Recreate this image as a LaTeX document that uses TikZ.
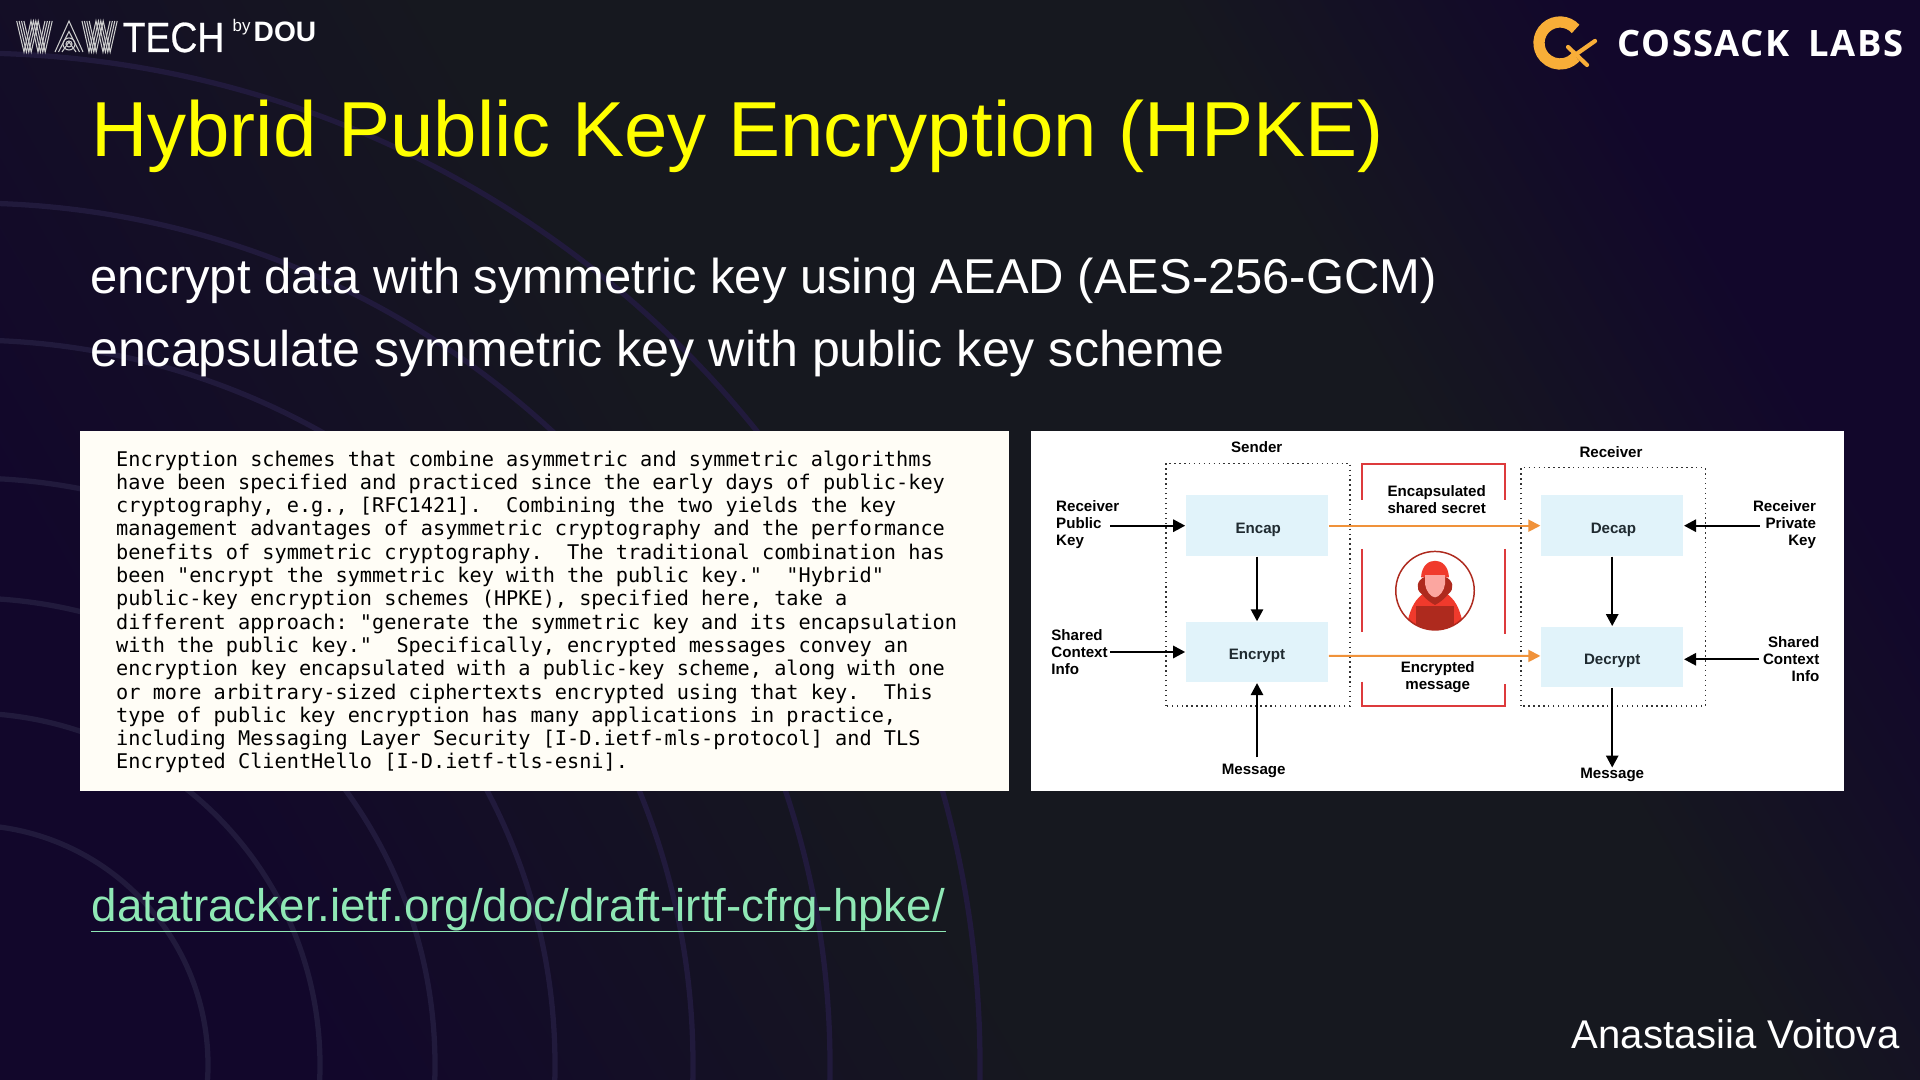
\documentclass[tikz,border=0pt]{standalone}
\usepackage{fontspec}
\setmainfont{Liberation Sans}
\newfontfamily\rfcfont{DejaVu Sans Mono}
\newfontfamily\logofont[LetterSpace=4]{Open Sans}
\newfontfamily\techfont[FakeBold=0.6]{Liberation Sans}
\usetikzlibrary{arrows.meta}
\definecolor{bgplum}{HTML}{12072B}
\definecolor{bgslate}{HTML}{16181F}
\definecolor{ringpurple}{HTML}{211A3C}
\definecolor{titleyellow}{HTML}{FFFF00}
\definecolor{linkgreen}{HTML}{8FE8B5}
\definecolor{paper}{HTML}{FFFDF6}
\definecolor{boxblue}{HTML}{E1F3FA}
\definecolor{inkdark}{HTML}{1F2A30}
\definecolor{flow}{HTML}{F0923A}
\definecolor{redline}{HTML}{DD3A3C}
\definecolor{logogold}{HTML}{F8AE38}
\definecolor{hoodred}{HTML}{F03A2C}
\definecolor{hooddark}{HTML}{AE2A1E}
\definecolor{facepink}{HTML}{FBA6A0}
\pgfdeclareverticalshading{slidebg}{100bp}{color(0bp)=(bgplum); color(25bp)=(bgplum); color(44bp)=(bgslate); color(64bp)=(bgslate); color(75bp)=(bgplum); color(100bp)=(bgplum)}
\tikzset{
  slidetext/.style={anchor=base west, inner sep=0pt},
  dlabel/.style={font=\fontsize{4.3}{4.85}\selectfont\bfseries, text=black, inner sep=0pt},
  stage/.style={fill=boxblue, minimum width=1.423cm, minimum height=0.605cm, inner sep=0pt,
    font=\fontsize{4.3}{4.85}\selectfont\bfseries, text=inkdark, text height=5.0pt, text depth=0.8pt},
  partybox/.style={draw=black!80, densely dotted, line width=0.4pt},
  blackflow/.style={-{Triangle[length=3.4pt,width=3.5pt]}, line width=0.55pt, black},
  orangeflow/.style={-{Triangle[length=3.4pt,width=3.4pt]}, line width=0.55pt, flow},
  bracket/.style={redline, line width=0.55pt},
}
\begin{document}
\begin{tikzpicture}[>=Stealth]
\useasboundingbox (0,0) rectangle (19.2,10.8);

% Background
\shade[shading=slidebg, shading angle=-60] (0,0) rectangle (19.2,10.8);
\begin{scope}
  \clip (0,0) rectangle (19.2,10.8);
  \foreach \r in {2.40,3.52,4.67,5.87,7.25,8.62,10.12}
    \draw[ringpurple, line width=1.5pt] (-0.32,0.15) circle (\r);
\end{scope}

% Logo left: striped WAW
\foreach \o in {0,0.024,0.048,0.072} {
  \draw[white!80!black, line width=0.3pt] (0.167+\o,10.59) -- (0.24+\o,10.28) -- (0.31+\o,10.59) -- (0.38+\o,10.28) -- (0.45+\o,10.59);
  \draw[white!80!black, line width=0.3pt] (0.82+\o,10.59) -- (0.89+\o,10.28) -- (0.96+\o,10.59) -- (1.03+\o,10.28) -- (1.10+\o,10.59);
}
\foreach \o in {0,0.035,0.07}
  \draw[white!80!black, line width=0.3pt] (0.55+\o,10.28) -- (0.69,10.59-3*\o) -- (0.83-\o,10.28);
\draw[white!80!black, line width=0.3pt] (0.69,10.36) circle (0.03) (0.69,10.36) circle (0.06);
\node[slidetext, white, font=\fontsize{12}{12}\techfont] (techname) at (1.22,10.28) {\scalebox{.885}[1]{TECH}};
\node[slidetext, white, font=\fontsize{4.8}{5}\selectfont] (bytag) at (2.32,10.48) {by};
\node[slidetext, white, font=\fontsize{8}{8}\selectfont\bfseries] (dou) at (2.53,10.38) {DOU};

% Logo right
\draw[logogold, line width=3.2pt] (15.60,10.37)+(42:0.21) arc (42:318:0.21);
\draw[logogold, line width=1.2pt, line cap=round] (15.68,10.33) -- (15.87,10.15);
\draw[logogold, line width=1.2pt, line cap=round] (15.75,10.25) -- (15.95,10.39);
\node[slidetext, white, font=\fontsize{10.35}{11}\logofont\bfseries] (cossack) at (16.17,10.23) {COSSACK\hspace{5.5pt}LABS};

% Title and bullets
\node[slidetext, titleyellow, font=\fontsize{22.2}{24}\selectfont] (title) at (0.905,9.23) {Hybrid Public Key Encryption (HPKE)};
\node[slidetext, white, font=\fontsize{13.93}{16}\selectfont] (lineone) at (0.895,7.86) {encrypt data with symmetric key using AEAD (AES-256-GCM)};
\node[slidetext, white, font=\fontsize{14.27}{16}\selectfont] (linetwo) at (0.895,7.13) {encapsulate symmetric key with public key scheme};

% Panel left: draft text
\fill[paper] (0.80,2.89) rectangle (10.09,6.49);
\node[anchor=base west, inner sep=0pt, text=black, align=left, font=\fontsize{5.76}{6.63}\rfcfont\frenchspacing] (drafttext) at (1.155,3.11) {%
Encryption schemes that combine asymmetric and symmetric algorithms\\
have been specified and practiced since the early days of public-key\\
cryptography, e.g., [RFC1421].~ Combining the two yields the key\\
management advantages of asymmetric cryptography and the performance\\
benefits of symmetric cryptography.~ The traditional combination has\\
been "encrypt the symmetric key with the public key."~ "Hybrid"\\
public-key encryption schemes (HPKE), specified here, take a\\
different approach: "generate the symmetric key and its encapsulation\\
with the public key."~ Specifically, encrypted messages convey an\\
encryption key encapsulated with a public-key scheme, along with one\\
or more arbitrary-sized ciphertexts encrypted using that key.~ This\\
type of public key encryption has many applications in practice,\\
including Messaging Layer Security [I-D.ietf-mls-protocol] and TLS\\
Encrypted ClientHello [I-D.ietf-tls-esni].};

% Panel right: HPKE diagram
\fill[white] (10.31,2.89) rectangle (18.44,6.49);

% Sender and receiver frames
\draw[partybox] (11.66,3.74) rectangle (13.50,6.167);
\draw[partybox] (15.21,3.74) rectangle (17.053,6.123);
\node[dlabel] (sender) at (12.567,6.333) {Sender};
\node[dlabel] (receiver) at (16.11,6.277) {Receiver};

% Stages
\node[stage] (encap) at (12.57,5.543) {\hspace{.7pt}Encap};
\node[stage] (encrypt) at (12.57,4.278) {Encrypt\hspace{4.2pt}};
\node[stage] (decap) at (16.122,5.543) {\hspace{.7pt}Decap};
\node[stage] (decrypt) at (16.122,4.23) {Decrypt\hspace{4.7pt}};

% Outer labels
\node[dlabel, align=left, anchor=west] (recvpublic) at (10.555,5.55) {Receiver\\Public\\Key};
\node[dlabel, align=left, anchor=west] (sharedleft) at (10.507,4.28) {Shared\\Context\\Info};
\node[dlabel] (msgin) at (12.537,3.09) {Message};
\node[dlabel, align=right, anchor=east] (recvprivate) at (18.167,5.55) {Receiver\\Private\\Key};
\node[dlabel, align=right, anchor=east] (sharedright) at (18.20,4.207) {Shared\\Context\\Info};
\node[dlabel] (msgout) at (16.122,3.05) {Message};

% Arrows
\draw[blackflow, shorten <=-2.7pt] (recvpublic.east |- encap.west) -- (encap.west);
\draw[blackflow, shorten <=0.5pt] (sharedleft.east) -- (sharedleft.east -| encrypt.west);
\draw[blackflow] (encap) -- (encrypt);
\draw[blackflow] (msgin.north -| encrypt.south) ++(0,0.06) -- (encrypt.south);
\draw[blackflow, shorten <=-2.1pt] (recvprivate.west |- decap.east) -- (decap.east);
\draw[blackflow, shorten <=0.9pt] (sharedright.west) -- (sharedright.west -| decrypt.east);
\draw[blackflow] (decap) -- (decrypt);
\draw[blackflow] (decrypt) -- (msgout);
\draw[orangeflow] (encap.east) -- (decap.west);
\draw[orangeflow] ([yshift=-1.05pt]encrypt.east) -- ([yshift=0.3pt]decrypt.west);

% Red marks round the attacker
\draw[bracket] (13.62,5.80) -- (13.62,6.157) -- (15.05,6.157) -- (15.05,5.80);
\draw[bracket] (13.62,5.31) -- (13.62,4.483);
\draw[bracket] (15.05,5.31) -- (15.05,4.46);
\draw[bracket] (13.62,3.983) -- (13.62,3.743) -- (15.05,3.743) -- (15.05,3.96);
\node[dlabel, align=center] (capsule) at (14.367,5.80) {Encapsulated\\shared secret};
\node[dlabel, align=center] (ciphertext) at (14.377,4.033) {Encrypted\\message};

% Hooded figure
\begin{scope}[shift={(14.35,4.893)}, x=0.00333cm, y=-0.00333cm]
  \begin{scope}
    \clip (0,0) circle (118);
    \fill[hoodred] (-82,90) .. controls (-72,50) and (-60,25) .. (-30,5) -- (30,5) .. controls (60,25) and (72,50) .. (82,90) -- (82,125) -- (-82,125) -- cycle;
    \fill[hooddark] (-57,46) rectangle (57,125);
  \end{scope}
  \fill[hooddark] (-30,-42) .. controls (-55,-32) and (-60,-5) .. (-40,10) .. controls (-28,25) and (-15,35) .. (0,43) .. controls (15,35) and (28,25) .. (40,10) .. controls (60,-5) and (55,-32) .. (30,-42) -- cycle;
  \fill[hoodred] (-42,-40) .. controls (-40,-75) and (-20,-90) .. (0,-90) .. controls (20,-90) and (40,-75) .. (42,-40) -- cycle;
  \fill[facepink] (-30,-47) -- (30,-47) -- (30,-20) .. controls (28,0) and (12,20) .. (0,20) .. controls (-12,20) and (-28,0) .. (-30,-20) -- cycle;
  \draw[hooddark, line width=0.42pt] (0,0) circle (118);
\end{scope}

% Link
\node[slidetext, linkgreen, font=\fontsize{13}{14}\selectfont] (dtlink) at (0.91,1.58) {datatracker.ietf.org/doc/draft-irtf-cfrg-hpke/};
\draw[linkgreen, line width=0.5pt] ([yshift=-2.7pt]dtlink.base west) -- ([yshift=-2.7pt]dtlink.base east);

% Speaker
\node[anchor=base east, inner sep=0pt, white, font=\fontsize{11.4}{12}\selectfont] (speaker) at (19.0,0.31) {Anastasiia Voitova};

\end{tikzpicture}
\end{document}
